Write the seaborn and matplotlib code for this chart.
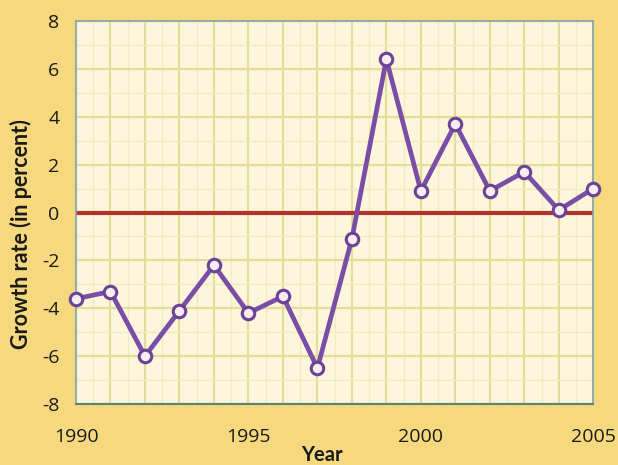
import numpy as np
import pandas as pd
import matplotlib
matplotlib.use("Agg")
import matplotlib.pyplot as plt
import seaborn as sns

years = list(range(1990, 2006))
growth = [-3.6, -3.3, -6.0, -4.1, -2.2, -4.2, -3.5, -6.5, -1.1, 6.4, 0.9, 3.7, 0.9, 1.7, 0.1, 1.0]
x_ticks = [1990, 1995, 2000, 2005]
y_ticks = [-8, -6, -4, -2, 0, 2, 4, 6, 8]

df = pd.DataFrame({"Year": years, "Growth": growth})

sns.set_style("white")
plt.rcParams["font.family"] = ["Open Sans", "DejaVu Sans"]
plt.rcParams["axes.unicode_minus"] = False

fig = plt.figure(figsize=(6.18, 4.65), dpi=100)
fig.patch.set_facecolor("#f6d97f")
ax = fig.add_axes([0.123, 0.131, 0.837, 0.824])
ax.set_facecolor("#fdf6dc")

# grid: yearly / every 2 units, lighter in between
for yr in np.arange(1990, 2005.01, 0.5):
    major = float(yr).is_integer()
    ax.axvline(yr, color="#e3dd9c" if major else "#f1ecc0", lw=1.6 if major else 1.0, zorder=0)
for v in range(-8, 9):
    major = v % 2 == 0
    ax.axhline(v, color="#e3dd9c" if major else "#f1ecc0", lw=1.6 if major else 1.0, zorder=0)

ax.axhline(0, color="#b3322b", lw=3, zorder=1)

sns.lineplot(data=df, x="Year", y="Growth", ax=ax, color="#7a4ea6", lw=3.4,
             marker="o", markersize=9, markerfacecolor="#f6ecf2",
             markeredgecolor="#6b4394", markeredgewidth=2.2, zorder=3, clip_on=False)

ax.set_xlim(1990, 2005)
ax.set_ylim(-8, 8)
ax.set_xticks(x_ticks)
ax.set_yticks(y_ticks)
ax.tick_params(length=0, labelsize=14, colors="#1a1a1a")
ax.tick_params(axis="x", pad=17)
ax.tick_params(axis="y", pad=12)
lab = dict(family=["Lato", "DejaVu Sans"], fontweight="bold", color="#1a1a1a")
ax.set_xlabel("Year", fontsize=14.5, **lab)
ax.set_ylabel("Growth rate (in percent)", fontsize=15.5, **lab)
ax.xaxis.set_label_coords(0.476, -0.106)
ax.yaxis.set_label_coords(-0.086, 0.444)
for side in ["left", "top", "right"]:
    ax.spines[side].set_color("#7fa6b2")
    ax.spines[side].set_linewidth(1.2)
ax.spines["bottom"].set_color("#5f7f77")
ax.spines["bottom"].set_linewidth(1.5)

fig.savefig("out.png", dpi=100, facecolor=fig.get_facecolor())
